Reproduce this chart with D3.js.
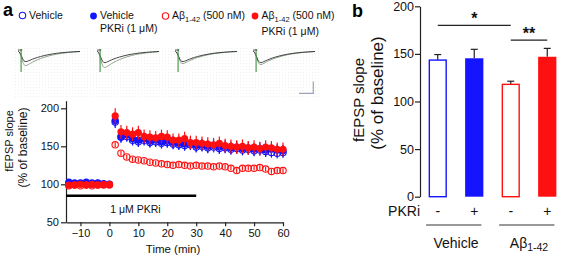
<!DOCTYPE html>
<html><head><meta charset="utf-8">
<script src="https://cdn.jsdelivr.net/npm/d3@7"></script>
<style>
html,body{margin:0;padding:0;background:#fff;}
svg{display:block;font-family:Arial,"Liberation Sans",sans-serif;}
</style></head>
<body><svg id="c" width="567" height="257"></svg>
<script>
// ---------- DATA ----------
const times = [-14,-12,-10,-8,-6,-4,-2,0,2,4,6,8,10,12,14,16,18,20,22,24,26,28,30,32,34,36,38,40,42,44,46,48,50,52,54,56,58,60];
const vehicle = [101,100,101,100,100,101,100,100,182,162,163,158,156,158,155,156,154,155,153,152,151,152,149,150,148,149,147,148,146,147,145,146,144,145,143,142,141,142];
const vehicleSem = [2,2,2,2,2,2,2,2,8,7,7,7,7,7,7,7,7,7,7,7,7,7,7,7,7,7,7,7,7,7,7,7,7,7,7,7,7,7];
const vehPKRi = [103,102,102,103,102,102,101,100,184,163,165,160,158,160,157,158,156,157,155,154,153,154,151,152,150,151,149,150,148,149,147,148,146,147,145,146,145,144];
const vehPKRiSem = [2,2,2,2,2,2,2,2,8,8,8,8,8,8,8,8,8,8,8,8,8,8,8,8,8,8,8,8,8,8,8,8,8,8,8,8,8,8];
const abeta = [98,99,98,99,98,99,99,99,152,141,136,133,132,131,129,128,127,126,125,126,125,124,125,124,124,123,124,123,121,118,121,121,121,122,120,117,118,118];
const abetaSem = [1,1,1,1,1,1,1,1,3,3,3,3,3,3,3,3,3,3,3,3,3,3,3,3,3,3,3,3,3,3,3,3,3,3,3,3,3,3];
const abPKRi = [99,99,100,99,100,99,100,100,190,169,168,166,168,163,162,161,163,162,158,158,160,155,155,154,153,152,154,151,150,149,150,148,149,147,149,148,146,146];
const abPKRiSem = [2,2,2,2,2,2,2,2,10,9,9,9,9,9,9,9,9,9,9,9,9,9,9,9,9,9,9,9,9,9,9,9,9,9,9,9,9,9];
const xTicksA = [-10,0,10,20,30,40,50,60];
const yTicksA = [50,100,150,200];
const pkriBar = [-15,30];

const barGroups = ["Vehicle","Vehicle+PKRi","Abeta","Abeta+PKRi"];
const barValues = [143.5,145.4,118,147];
const barErr = [5.8,9.4,3.3,8.8];
const pkriSigns = ["-","+","-","+"];
const yTicksB = [0,50,100,150,200];
const sigLevels = [180,164.5];
const sigLabels = ["*","**"];

// EPSP trace template (normalized)
const traceT = [0,0.02,0.05,0.08,0.11,0.15,0.2,0.27,0.36,0.48,0.62,0.8,1.0];
const traceV = [0,0.05,0.35,0.8,1.0,0.95,0.82,0.66,0.5,0.34,0.2,0.1,0.04];
const traceDipsDark = [11,12,11,12];
const traceDipsGrey = [15,17,13,14];

// ---------- DRAW ----------
const svg = d3.select("#c");
const BLUE = "#1414ff", RED = "#ff1010";

// panel letters
svg.append("text").attr("x",3).attr("y",16).attr("font-size",18).attr("font-weight","bold").text("a");
svg.append("text").attr("x",352).attr("y",17).attr("font-size",18).attr("font-weight","bold").text("b");

// legend
const lg = svg.append("g").attr("font-size",10.5).attr("fill","#111");
function abText(sel,x,y){
  const t = sel.append("text").attr("x",x).attr("y",y);
  t.append("tspan").text("Aβ");
  t.append("tspan").attr("font-size",7.5).attr("dy",2.5).text("1-42");
  t.append("tspan").attr("dy",-2.5).text(" (500 nM)");
  return t;
}
lg.append("circle").attr("cx",22.5).attr("cy",15.5).attr("r",3.2).attr("fill","none").attr("stroke",BLUE).attr("stroke-width",1.1);
lg.append("text").attr("x",29).attr("y",19).text("Vehicle");
lg.append("circle").attr("cx",93.5).attr("cy",16).attr("r",3.4).attr("fill",BLUE);
lg.append("text").attr("x",100).attr("y",19).text("Vehicle");
lg.append("text").attr("x",100).attr("y",32).text("PKRi (1 μM)");
lg.append("circle").attr("cx",165.5).attr("cy",16).attr("r",3.2).attr("fill","none").attr("stroke",RED).attr("stroke-width",1.1);
abText(lg,172,19);
lg.append("circle").attr("cx",255).attr("cy",16).attr("r",3.4).attr("fill",RED);
abText(lg,261.5,19);
lg.append("text").attr("x",261.5).attr("y",35).text("PKRi (1 μM)");

// trace inset background (faint dots)
const defs = svg.append("defs");
const pat = defs.append("pattern").attr("id","dots").attr("width",3).attr("height",3).attr("patternUnits","userSpaceOnUse");
pat.append("rect").attr("width",1).attr("height",1).attr("fill","#f0f0f0");
svg.append("rect").attr("x",15).attr("y",47).attr("width",306).attr("height",52).attr("fill","url(#dots)");

const panelStarts = [18,97,175,253];
const panelWidth = 62;
panelStarts.forEach((x0,i)=>{
  const tx = d3.scaleLinear().domain([0,1]).range([x0,x0+panelWidth]);
  const baseY = 51;
  const mk = depth => d3.line().x((d,j)=>tx(traceT[j])).y(d=>baseY+d*depth).curve(d3.curveBasis)(traceV);
  svg.append("path").attr("d",mk(traceDipsGrey[i])).attr("fill","none").attr("stroke","#8fa58f").attr("stroke-width",1);
  svg.append("path").attr("d",mk(traceDipsDark[i])).attr("fill","none").attr("stroke","#333").attr("stroke-width",0.9);
  svg.append("line").attr("x1",tx(0.05)).attr("x2",tx(0.05)).attr("y1",49).attr("y2",72).attr("stroke","#4f9a4f").attr("stroke-width",1.2);
  svg.append("line").attr("x1",tx(0)).attr("x2",tx(0.07)).attr("y1",50).attr("y2",50).attr("stroke","#333").attr("stroke-width",0.8);
});
// scale bar
svg.append("path").attr("d","M299,93.3H313.3V81.5").attr("fill","none").attr("stroke","#9aa3b5").attr("stroke-width",1.2);

// ---- Panel a time course ----
const xA = d3.scaleLinear().domain([-15,60]).range([66,283]);
const yA = d3.scaleLinear().domain([50,210]).range([222.3,100.7]);

const axA = svg.append("g").attr("font-size",11);
const yAxA = axA.append("g").attr("transform","translate(66,0)")
  .call(d3.axisLeft(yA).tickValues(yTicksA).tickSize(5).tickSizeOuter(0));
const xAxA = axA.append("g").attr("transform",`translate(0,${yA(50)})`)
  .call(d3.axisBottom(xA).tickValues(xTicksA).tickSize(4).tickSizeOuter(0));
[yAxA,xAxA].forEach(g=>{
  g.selectAll("path,line").attr("stroke","#222").attr("stroke-width",1.2);
  g.selectAll("text").attr("fill","#111").attr("font-size",11).attr("font-family","Arial,'Liberation Sans',sans-serif");
});
yAxA.selectAll("text").attr("x",-7);
xAxA.selectAll("text").attr("y",7);

svg.append("text").attr("transform",`translate(13,141) rotate(-90)`).attr("text-anchor","middle").attr("font-size",11).attr("fill","#111").text("fEPSP slope");
svg.append("text").attr("transform",`translate(26.5,147.5) rotate(-90)`).attr("text-anchor","middle").attr("font-size",12).attr("fill","#111").text("(% of baseline)");
svg.append("text").attr("x",xA(22)).attr("y",253).attr("text-anchor","middle").attr("font-size",11.5).attr("fill","#111").text("Time (min)");

// PKRi application bar
svg.append("line").attr("x1",xA(pkriBar[0])).attr("x2",xA(pkriBar[1])).attr("y1",yA(85)).attr("y2",yA(85)).attr("stroke","#000").attr("stroke-width",2.4);
svg.append("text").attr("x",xA(9)).attr("y",213).attr("text-anchor","middle").attr("font-size",10.5).attr("fill","#111").text("1 μM PKRi");

function series(vals,sem,color,filled){
  const g = svg.append("g");
  g.selectAll("line").data(vals).join("line")
    .attr("x1",(d,i)=>xA(times[i])).attr("x2",(d,i)=>xA(times[i]))
    .attr("y1",(d,i)=>yA(d-sem[i])).attr("y2",(d,i)=>yA(d+sem[i]))
    .attr("stroke",color).attr("stroke-width",1.2);
  g.selectAll("circle").data(vals).join("circle")
    .attr("cx",(d,i)=>xA(times[i])).attr("cy",d=>yA(d))
    .attr("r",filled?3.6:3.2)
    .attr("fill",filled?color:"#fff").attr("fill-opacity",filled?1:0)
    .attr("stroke",color).attr("stroke-width",filled?0:1.1);
}
series(vehicle,vehicleSem,BLUE,false);
series(vehPKRi,vehPKRiSem,BLUE,true);
series(abeta,abetaSem,RED,false);
series(abPKRi,abPKRiSem,RED,true);

// ---- Panel b bars ----
const xB = d3.scaleBand().domain(barGroups).range([419.5,565.5]).paddingInner(0.5).paddingOuter(0.25);
const yB = d3.scaleLinear().domain([0,200]).range([196.7,6.3]);
const barColors = [BLUE,BLUE,RED,RED];
const barFilled = [false,true,false,true];

const yAxB = svg.append("g").attr("transform","translate(420,0)")
  .call(d3.axisLeft(yB).tickValues(yTicksB).tickSize(5).tickSizeOuter(0));
yAxB.selectAll("path,line").attr("stroke","#222").attr("stroke-width",1.2);
yAxB.selectAll("text").attr("fill","#111").attr("font-size",12.5).attr("x",-6).attr("font-family","Arial,'Liberation Sans',sans-serif");

svg.append("text").attr("transform",`translate(364,100) rotate(-90)`).attr("text-anchor","middle").attr("font-size",15).attr("fill","#111").text("fEPSP slope");
svg.append("text").attr("transform",`translate(383,93) rotate(-90)`).attr("text-anchor","middle").attr("font-size",17).attr("fill","#111").text("(% of baseline)");

// error bars (upward only)
barGroups.forEach((g,i)=>{
  const cx = xB(g)+xB.bandwidth()/2;
  svg.append("line").attr("x1",cx).attr("x2",cx).attr("y1",yB(barValues[i])).attr("y2",yB(barValues[i]+barErr[i])).attr("stroke","#222").attr("stroke-width",1.2);
  svg.append("line").attr("x1",cx-3.5).attr("x2",cx+3.5).attr("y1",yB(barValues[i]+barErr[i])).attr("y2",yB(barValues[i]+barErr[i])).attr("stroke","#222").attr("stroke-width",1.2);
});
svg.append("g").selectAll("rect").data(barValues).join("rect")
  .attr("x",(d,i)=>xB(barGroups[i])+(barFilled[i]?0:0.7))
  .attr("width",(d,i)=>xB.bandwidth()-(barFilled[i]?0:1.4))
  .attr("y",d=>yB(d)).attr("height",d=>yB(0)-yB(d))
  .attr("fill",(d,i)=>barFilled[i]?barColors[i]:"#fff")
  .attr("stroke",(d,i)=>barColors[i]).attr("stroke-width",(d,i)=>barFilled[i]?0:1.4);

// significance
const sigPairs = [[0,2],[2,3]];
sigPairs.forEach((p,k)=>{
  const x1 = xB(barGroups[p[0]])+xB.bandwidth()/2, x2 = xB(barGroups[p[1]])+xB.bandwidth()/2;
  svg.append("line").attr("x1",x1).attr("x2",x2).attr("y1",yB(sigLevels[k])).attr("y2",yB(sigLevels[k])).attr("stroke","#222").attr("stroke-width",1.1);
  svg.append("text").attr("x",(x1+x2)/2).attr("y",yB(sigLevels[k])-1).attr("text-anchor","middle").attr("font-size",16).attr("font-weight","bold").attr("fill","#111").text(sigLabels[k]);
});

// PKRi row
svg.append("text").attr("x",420).attr("y",216).attr("text-anchor","end").attr("font-size",14).attr("fill","#111").text("PKRi");
pkriSigns.forEach((s,i)=>{
  svg.append("text").attr("x",xB(barGroups[i])+xB.bandwidth()/2).attr("y",216).attr("text-anchor","middle").attr("font-size",14).attr("fill","#111").text(s);
});
// group lines
const grpSpans = [[0,1],[2,3]];
grpSpans.forEach(p=>{
  svg.append("line").attr("x1",xB(barGroups[p[0]])-2.5).attr("x2",xB(barGroups[p[1]])+xB.bandwidth()-2)
    .attr("y1",225).attr("y2",225).attr("stroke","#777").attr("stroke-width",1.3);
});
svg.append("text").attr("x",(xB(barGroups[0])+xB(barGroups[1])+xB.bandwidth())/2).attr("y",248).attr("text-anchor","middle").attr("font-size",14).attr("fill","#111").text("Vehicle");
const abt = svg.append("text").attr("x",(xB(barGroups[2])+xB(barGroups[3])+xB.bandwidth())/2).attr("y",248).attr("text-anchor","middle").attr("font-size",14).attr("fill","#111");
abt.append("tspan").text("Aβ");
abt.append("tspan").attr("font-size",10.5).attr("dy",3).text("1-42");
</script></body></html>
